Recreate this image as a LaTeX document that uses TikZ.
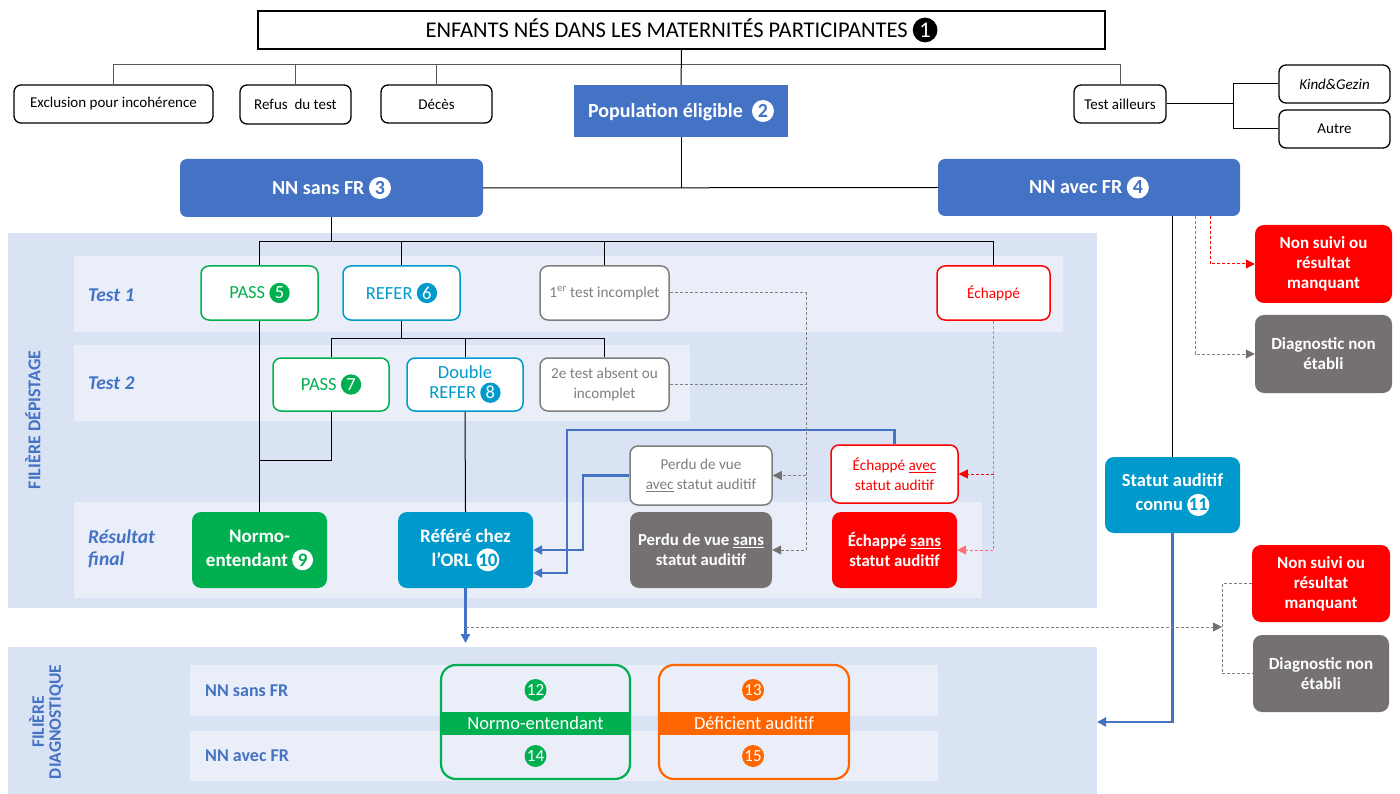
\documentclass[tikz,border=0pt]{standalone}
\usepackage{fontspec}
\setmainfont{Carlito}
\usetikzlibrary{arrows.meta}
\definecolor{mblue}{HTML}{4472C4}
\definecolor{bgblue}{HTML}{DAE3F3}
\definecolor{band}{HTML}{E9EEF8}
\definecolor{mgreen}{HTML}{00B050}
\definecolor{mcyan}{HTML}{0099CC}
\definecolor{mred}{HTML}{FF0000}
\definecolor{lred}{HTML}{FF6F73}
\definecolor{mgray}{HTML}{767171}
\definecolor{lgray}{HTML}{7F7F7F}
\definecolor{morange}{HTML}{FF6600}
\definecolor{lineg}{HTML}{595959}
\newcommand\fs[2]{\fontsize{#1}{#2}\selectfont}
\newcommand\cnum[3]{\tikz[baseline=(cnx.base)]\node[circle,fill=#1,text=#2,inner sep=0pt,minimum size=1.1em](cnx){#3};}
\tikzset{
  sz/.style 2 args={minimum width=#1, minimum height=#2},
  wbox/.style={draw=black, line width=1.3, rounded corners=7, fill=white, align=center, inner sep=1, font=\fs{15}{18}},
  bluebox/.style={fill=mblue, text=white, font=\bfseries\fs{20}{24}, align=center, inner sep=1},
  t1box/.style={draw=#1, text=#1, fill=white, line width=1.5, rounded corners=8, align=center, font=\fs{18.5}{20}, inner sep=1},
  solidbox/.style={fill=#1, text=white, rounded corners=9, align=center, font=\bfseries\fs{17}{20}, inner sep=1},
  rowlbl/.style={text=mblue, font=\bfseries\itshape\fs{19.5}{22}, anchor=west, align=left, inner sep=0},
  diaglbl/.style={text=mblue, font=\bfseries\fs{18}{20}, anchor=west, inner sep=0},
  conn/.style={draw=black, line width=1},
  tconn/.style={draw=lineg, line width=1},
  barrow/.style={draw=mblue, line width=2.2, -{Triangle[length=9,width=9]}},
  gdash/.style={draw=lgray, line width=1, dash pattern=on 3 off 2},
  garrow/.style={gdash, -{Triangle[length=9,width=9,fill=mgray,color=mgray]}},
  rdash/.style={draw=#1, line width=1, dash pattern=on 3 off 2, -{Triangle[length=9,width=9]}},
  numc/.style={circle, fill=#1, text=white, minimum size=22, inner sep=0, font=\fs{17}{17}},
  bar/.style={fill=#1, text=white, inner sep=0, font=\fs{18.5}{20}},
  grp/.style={draw=#1, line width=2.2, rounded corners=15}
}
\begin{document}
\begin{tikzpicture}[x=1pt,y=-1pt]
\useasboundingbox[fill=white] (0,0) rectangle (1400,794);
% backgrounds
\fill[bgblue] (8,233) rectangle (1097,608);
\fill[bgblue] (8,647) rectangle (1097,794);
\fill[band] (74,256) rectangle (1063,332);
\fill[band] (74,345) rectangle (690,421);
\fill[band] (74,502) rectangle (982,598);
\fill[band] (190,665) rectangle (938,716);
\fill[band] (190,731) rectangle (938,781);
\node[rotate=90, text=mblue, font=\bfseries\fs{18}{20}] (lbl1) at (33,420) {FILIÈRE DÉPISTAGE};
\node[rotate=90, text=mblue, font=\bfseries\fs{17.5}{17}, align=center] (lbl2) at (46,722) {FILIÈRE\\DIAGNOSTIQUE};
% row labels
\node[rowlbl] (lt1) at (88,295) {Test 1};
\node[rowlbl] (lt2) at (88,383) {Test 2};
\node[rowlbl] (lrf) at (88,549) {Résultat\\final};
\node[diaglbl] (lns) at (205,691) {NN sans FR};
\node[diaglbl] (lna) at (205,756) {NN avec FR};
% top part
\node[draw=black, line width=1.5, fill=white, sz={847}{38}, font=\fs{22.5}{24}, inner sep=1] (top) at (681.5,30) {ENFANTS NÉS DANS LES MATERNITÉS PARTICIPANTES \cnum{black}{white}{1}};
\node[wbox, sz={199}{38}] (excl) at (113.5,104) {Exclusion pour incohérence};
\node[wbox, sz={111}{39}] (refus) at (295.5,104.5) {Refus\ \ du test};
\node[wbox, sz={111}{38}] (deces) at (436.5,104) {Décès};
\node[wbox, sz={92}{38}] (ta) at (1120,104) {Test ailleurs};
\node[wbox, sz={111}{38}] (kind) at (1334.5,84) {\itshape Kind\&Gezin};
\node[wbox, sz={111}{38}] (autre) at (1334.5,129) {Autre};
\node[bluebox, sz={214}{52}] (pop) at (681,111) {Population éligible\ \ \cnum{white}{mblue}{2}};
\node[bluebox, sz={303}{58}, rounded corners=7] (nns) at (331.5,188) {NN sans FR \cnum{white}{mblue}{3}};
\node[bluebox, sz={302}{57}, rounded corners=7] (nna) at (1089,187.5) {NN avec FR \cnum{white}{mblue}{4}};
\coordinate (hb) at (681,65);
\draw[tconn] (excl.north) -- (excl.north |- hb) -- (ta.north |- hb) -- (ta.north);
\draw[tconn] (refus.north) -- (refus.north |- hb);
\draw[tconn] (deces.north) -- (deces.north |- hb);
\draw[conn] (top.south) -- (pop.north);
\coordinate (tj) at (1233,104);
\draw[conn] (ta.east) -- (tj);
\draw[conn] (kind.west) -- (kind.west -| tj) -- (autre.west -| tj) -- (autre.west);
\draw[conn] (pop.south) -- (pop.south |- nns.east);
\draw[conn] (nns.east) -- (nna.west);
% test 1
\node[t1box=mgreen, sz={117}{54}] (pass5) at (259.5,293) {PASS \cnum{mgreen}{white}{5}};
\node[t1box=mcyan, sz={117}{54}] (refer6) at (401.5,293) {REFER \cnum{mcyan}{white}{6}};
\node[t1box=lgray, sz={129}{54}, font=\fs{15.3}{18}] (inc1) at (604.5,293) {1\textsuperscript{er} test incomplet};
\node[t1box=mred, sz={113}{54}, font=\fs{15.3}{18}] (ech) at (993.5,293) {Échappé};
\coordinate (t1bus) at (331.5,242);
\draw[conn] (nns.south) -- (t1bus);
\draw[conn] (pass5.north) -- (pass5.north |- t1bus) -- (ech.north |- t1bus) -- (ech.north);
\draw[conn] (refer6.north) -- (refer6.north |- t1bus);
\draw[conn] (inc1.north) -- (inc1.north |- t1bus);
% test 2
\node[t1box=mgreen, sz={116}{53}] (pass7) at (331,384.5) {PASS \cnum{mgreen}{white}{7}};
\node[t1box=mcyan, sz={116}{53}] (dref) at (465,384.5) {Double\\REFER \cnum{mcyan}{white}{8}};
\node[t1box=lgray, sz={129}{53}, font=\fs{15.2}{20}] (inc2) at (604.5,384.5) {2e test absent ou\\incomplet};
\coordinate (t2bus) at (401.5,338);
\draw[conn] (refer6.south) -- (t2bus);
\draw[conn] (pass7.north) -- (pass7.north |- t2bus) -- (inc2.north |- t2bus) -- (inc2.north);
\draw[conn] (dref.north) -- (dref.north |- t2bus);
% results
\node[solidbox=mgreen, sz={135}{76}, font=\bfseries\fs{19}{24}] (normo) at (259.5,550) {Normo-\\entendant \cnum{white}{mgreen}{9}};
\node[solidbox=mcyan, sz={135}{76}, font=\bfseries\fs{19}{24}] (refere) at (465.5,550) {Référé chez\\l’ORL \cnum{white}{mcyan}{10}};
\node[solidbox=mgray, sz={142}{76}, font=\bfseries\fs{16.8}{20}] (perdus) at (701,550) {Perdu de vue \underline{sans}\\statut auditif};
\node[solidbox=mred, sz={125}{76}, font=\bfseries\fs{16.8}{20}] (echs) at (894.5,550) {Échappé \underline{sans}\\statut auditif};
\node[t1box=lgray, sz={142}{59}, font=\fs{15.2}{20}] (perdua) at (701,475.5) {Perdu de vue\\\underline{avec} statut auditif};
\node[t1box=mred, sz={127}{58}, font=\fs{15.2}{20}] (echa) at (894.5,474) {Échappé \underline{avec}\\statut auditif};
\coordinate (j7) at (331,460);
\draw[conn] (pass5.south) -- (normo.north);
\draw[conn] (pass7.south) -- (j7) -- (pass5.south |- j7);
\draw[conn] (dref.south) -- (refere.north);
% blue arrows
\coordinate (bl1) at (567,430);
\draw[barrow] (echa.north) |- (bl1) |- ([yshift=-23]refere.east);
\draw[barrow] (perdua.west) -| ([xshift=50]refere.east) -- (refere.east);
\coordinate (diagtop) at (465.5,643);
\draw[barrow] (refere.south) -- (diagtop);
% gray dashed
\coordinate (gd) at (806,293);
\draw[garrow] (inc1.east) -- (gd) |- (perdus.east);
\draw[gdash] (inc2.east) -- (inc2.east -| gd);
\draw[garrow] (gd |- perdua.east) -- (perdua.east);
% red dashed
\draw[rdash=lred] (ech.south) |- (echs.east);
\draw[rdash=mred] (ech.south |- echa.east) -- (echa.east);
% right side
\node[solidbox=mcyan, sz={135}{76}, font=\bfseries\fs{18.5}{24}] (statut) at (1172.5,495) {Statut auditif\\connu \cnum{white}{mcyan}{11}};
\node[solidbox=mred, sz={137}{78}] (ns1) at (1323.5,264) {Non suivi ou\\résultat\\manquant};
\node[solidbox=mgray, sz={137}{78}] (diag1) at (1323.5,354) {Diagnostic non\\établi};
\node[solidbox=mred, sz={138}{77}] (ns2) at (1321,583.5) {Non suivi ou\\résultat\\manquant};
\node[solidbox=mgray, sz={136}{77}] (diag2) at (1321,673.5) {Diagnostic non\\établi};
\draw[conn] (statut.north |- nna.south) -- (statut.north);
\coordinate (diagR) at (1097,722);
\draw[barrow] (statut.south) |- (diagR);
\draw[garrow] ([xshift=106]nna.south) |- (diag1.west);
\draw[rdash=mred] ([xshift=121]nna.south) |- (ns1.west);
\coordinate (lostpt) at (465.5,627);
\coordinate (lostend) at (1222,627);
\draw[garrow] (lostpt) -- (lostend);
\draw[gdash] (ns2.west) -- (ns2.west -| lostend) -- (diag2.west -| lostend) -- (diag2.west);
% diagnostic groups
\node[bar=mgreen, sz={189}{23}] (nebar) at (535.5,723.5) {Normo-entendant};
\node[bar=morange, sz={190}{23}] (dabar) at (754,723.5) {Déficient auditif};
\node[grp=mgreen, sz={189}{114}] (ne) at (535.5,722) {};
\node[grp=morange, sz={190}{114}] (da) at (754,722) {};
\node[numc=mgreen] (c12) at (535.5,690) {12};
\node[numc=mgreen] (c14) at (535.5,756) {14};
\node[numc=morange] (c13) at (753,690) {13};
\node[numc=morange] (c15) at (753,756) {15};
\end{tikzpicture}
\end{document}
